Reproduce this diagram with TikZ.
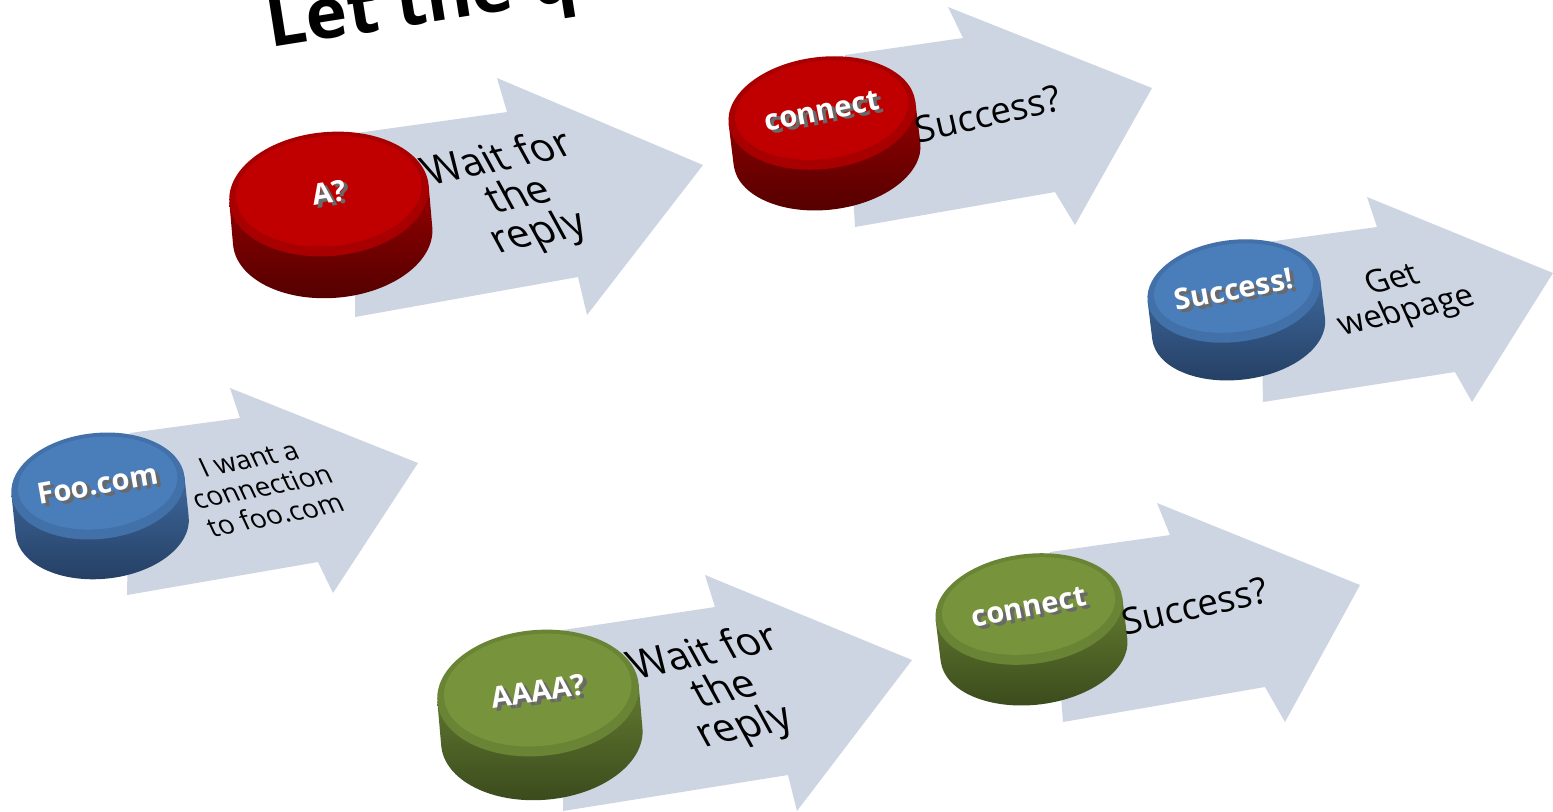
\documentclass[tikz,border=0pt]{standalone}
\usepackage{fontspec}
\setmainfont{Open Sans}

\definecolor{arrowbg}{RGB}{205,213,226}
\definecolor{shadowgray}{RGB}{105,105,105}
\definecolor{redtop}{RGB}{192,0,0}
\definecolor{redrim}{RGB}{168,0,0}
\definecolor{redside}{RGB}{150,0,0}
\definecolor{reddeep}{RGB}{82,0,0}
\definecolor{bluetop}{RGB}{74,126,187}
\definecolor{bluerim}{RGB}{66,112,168}
\definecolor{blueside}{RGB}{62,104,156}
\definecolor{bluedeep}{RGB}{36,62,98}
\definecolor{greentop}{RGB}{119,147,60}
\definecolor{greenrim}{RGB}{106,132,53}
\definecolor{greenside}{RGB}{98,122,48}
\definecolor{greendeep}{RGB}{58,74,28}

% white label with a grey relief
\newcommand\relief[1]{\makebox[0pt][l]{\kern1pt\raisebox{-1pt}{\color{shadowgray}#1}}#1}

% button: x, y, angle, rx, ry, depth, colour, name, label
\newcommand\knopf[9]{%
  \begin{scope}[shift={(#1,#2)},rotate=#3]
    \shade[top color=#7side,bottom color=#7deep] (-#4,0) -- (-#4,#6)
      arc[start angle=180,end angle=0,x radius=#4,y radius=#5] -- (#4,0) -- cycle;
    \fill[#7rim] (0,0) ellipse [x radius=#4,y radius=#5];
    \fill[#7top] (0,-3) ellipse [x radius=#4-7,y radius=#5-7];
  \end{scope}
  \node[knopftext,rotate=#3+4] (#8) at (#1,#2) {\relief{#9}};}

\tikzset{
  knopftext/.style={text=white,inner sep=0pt,font=\bfseries\fontsize{8.3}{10}\selectfont},
  pfeiltext/.style={text=black,inner sep=0pt,align=center},
}

\begin{document}
\begin{tikzpicture}[x=0.01cm,y=-0.01cm]
  \clip (0,0) rectangle (1553,811);
  \fill[white] (0,0) rectangle (1553,811);

  % title, cut by the top edge
  \node[anchor=base west,rotate=9,inner sep=0pt,
        font=\bfseries\fontsize{20}{20}\selectfont] (titel) at (270,48) {Let the q};

  % arrows
  \fill[arrowbg] (130,433) -- (240,418) -- (230,388) -- (418,463) -- (333,593) -- (318,562) -- (127,595) -- cycle;
  \fill[arrowbg] (357,133) -- (507,112) -- (497,78) -- (703,165) -- (587,315) -- (578,277) -- (355,317) -- cycle;
  \fill[arrowbg] (845,55) -- (963,38) -- (948,7) -- (1152,88) -- (1075,225) -- (1055,192) -- (855,227) -- cycle;
  \fill[arrowbg] (1260,243) -- (1377,227) -- (1367,197) -- (1553,273) -- (1472,402) -- (1455,372) -- (1263,402) -- cycle;
  \fill[arrowbg] (563,630) -- (715,607) -- (705,575) -- (912,660) -- (797,811) -- (788,775) -- (563,811) -- cycle;
  \fill[arrowbg] (1050,552) -- (1170,535) -- (1157,503) -- (1360,585) -- (1285,722) -- (1265,687) -- (1063,722) -- cycle;

  % buttons
  \knopf{98}{486}{6}{87}{53}{40}{blue}{foo}{Foo.com}
  \knopf{329}{194}{5}{100}{62}{42}{red}{afrage}{A?}
  \knopf{822}{113}{7}{94}{56}{41}{red}{connrot}{connect}
  \knopf{1234}{291}{7}{87}{51}{38}{blue}{erfolg}{Success!}
  \knopf{538}{693}{5}{101}{63}{44}{green}{aaaafrage}{AAAA?}
  \knopf{1029}{609}{7}{94}{55}{41}{green}{conngruen}{connect}

  % texts on the arrows
  \node[pfeiltext,rotate=11,xslant=-0.25,font=\fontsize{7.7}{8.6}\selectfont] (wunsch) at (262,487) {I want a\\connection\\to foo.com};
  \node[pfeiltext,rotate=12,xslant=-0.3,font=\fontsize{11.5}{11.4}\selectfont] (warta) at (519,197) {Wait for\\the\\reply};
  \node[pfeiltext,rotate=13,font=\fontsize{10.4}{11}\selectfont] (okrot) at (988,114) {Success?};
  \node[pfeiltext,rotate=13,xslant=-0.2,font=\fontsize{9.2}{9.6}\selectfont] (seite) at (1400,297) {Get\\webpage};
  \node[pfeiltext,rotate=12,xslant=-0.3,font=\fontsize{11.5}{11.4}\selectfont] (wartaaaa) at (725,691) {Wait for\\the\\reply};
  \node[pfeiltext,rotate=13,font=\fontsize{10.4}{11}\selectfont] (okgruen) at (1195,606) {Success?};
\end{tikzpicture}
\end{document}
